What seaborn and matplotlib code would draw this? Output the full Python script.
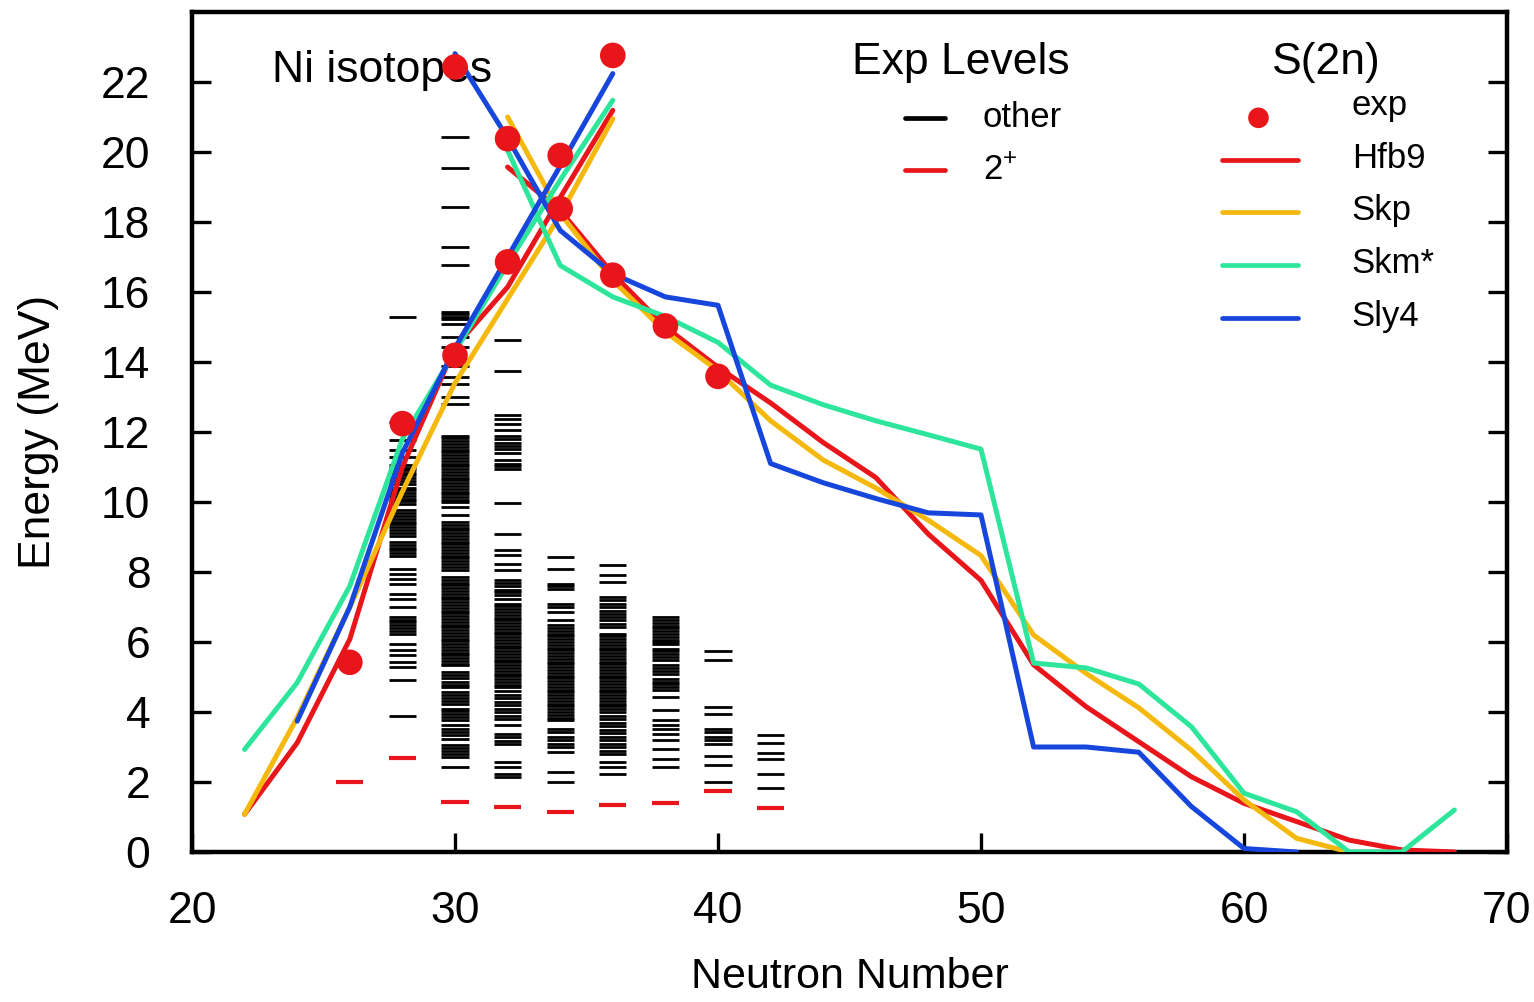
import matplotlib
matplotlib.use("Agg")
import matplotlib.pyplot as plt
import seaborn as sns
import pandas as pd

# ---------------- data ----------------
# S(2n) model curves: two branches each (rising / falling)
hfb9_rise_N = [22, 24, 26, 28, 30, 32, 34, 36]
hfb9_rise_E = [1.08, 3.12, 6.08, 11.0, 14.43, 16.14, 18.7, 21.19]
hfb9_fall_N = [32, 34, 36, 38, 40, 42, 44, 46, 48, 50, 52, 54, 56, 58, 60, 62, 64, 66, 68]
hfb9_fall_E = [19.57, 18.33, 16.52, 15.0, 13.85, 12.83, 11.7, 10.7, 9.08, 7.76, 5.35, 4.15,
               3.15, 2.15, 1.39, 0.87, 0.34, 0.06, 0.0]

skp_rise_N = [22, 24, 26, 28, 30, 32, 34, 36]
skp_rise_E = [1.08, 3.84, 7.0, 10.3, 13.4, 15.8, 18.2, 20.95]
skp_fall_N = [32, 34, 36, 38, 40, 42, 44, 46, 48, 50, 52, 54, 56, 58, 60, 62, 64]
skp_fall_E = [21.0, 18.24, 16.33, 14.86, 13.75, 12.32, 11.2, 10.4, 9.48, 8.47, 6.2, 5.1,
              4.12, 2.91, 1.49, 0.39, 0.0]

skm_rise_N = [22, 24, 26, 28, 30, 32, 34, 36]
skm_rise_E = [2.93, 4.84, 7.6, 11.8, 14.3, 16.8, 19.2, 21.48]
skm_fall_N = [32, 34, 36, 38, 40, 42, 44, 46, 48, 50, 52, 54, 56, 58, 60, 62, 64, 66, 68]
skm_fall_E = [20.05, 16.76, 15.86, 15.3, 14.56, 13.34, 12.78, 12.32, 11.92, 11.51, 5.4, 5.26,
              4.8, 3.58, 1.68, 1.15, 0.0, 0.0, 1.2]

sly4_rise_N = [24, 26, 28, 30, 32, 34, 36]
sly4_rise_E = [3.74, 7.0, 11.4, 14.4, 17.0, 19.6, 22.24]
sly4_fall_N = [30, 32, 34, 36, 38, 40, 42, 44, 46, 48, 50, 52, 54, 56, 58, 60, 62]
sly4_fall_E = [22.81, 20.4, 17.76, 16.52, 15.86, 15.62, 11.1, 10.55, 10.1, 9.69, 9.63, 3.0,
               3.0, 2.85, 1.3, 0.1, 0.0]

# experimental S(2n)
exp_rise_N = [26, 28, 30, 32, 34, 36]
exp_rise_E = [5.42, 12.24, 14.19, 16.86, 19.9, 22.76]
exp_fall_N = [30, 32, 34, 36, 38, 40]
exp_fall_E = [22.43, 20.38, 18.38, 16.48, 15.03, 13.59]

# experimental 2+ levels
twoplus_N = [26, 28, 30, 32, 34, 36, 38, 40, 42]
twoplus_E = [2.0, 2.68, 1.44, 1.3, 1.15, 1.33, 1.41, 1.75, 1.25]

# other experimental levels (MeV)
levels_N28 = [15.29, 12.29, 11.76, 11.48, 11.29, 11.05, 10.98, 10.91, 10.84, 10.76, 10.68, 10.60,
              10.52, 10.40, 10.33, 10.26, 10.18, 10.10, 10.02, 9.95, 9.76, 9.68, 9.60, 9.52,
              9.44, 9.36, 9.28, 9.20, 9.12, 9.04, 8.86, 8.78, 8.70, 8.62, 8.54, 8.46, 8.09,
              7.95, 7.81, 7.67, 7.38, 7.24, 7.00, 6.72, 6.64, 6.56, 6.48, 6.40, 6.32, 6.24,
              5.95, 5.76, 5.62, 5.43, 5.29, 4.92, 3.90]
levels_N30 = [20.43, 19.53, 18.43, 17.29, 16.76, 15.43, 15.36, 15.30, 15.24, 15.10, 14.71, 14.43,
              13.90, 13.57, 13.38, 13.00, 12.81,
              11.90, 11.82, 11.74, 11.66, 11.58, 11.50, 11.42, 11.34, 11.26, 11.18, 11.10, 11.02,
              10.94, 10.86, 10.78, 10.70, 10.62, 10.54, 10.46, 10.38, 10.30, 10.22, 10.14, 10.06,
              10.00, 9.86, 9.62,
              9.43, 9.35, 9.27, 9.19, 9.11, 9.03, 8.95, 8.87, 8.79, 8.71, 8.63, 8.55, 8.47, 8.39,
              8.31, 8.23, 8.15, 8.05,
              7.86, 7.78, 7.70, 7.62, 7.54, 7.46, 7.38, 7.30, 7.22, 7.14, 7.06, 6.98, 6.90, 6.82,
              6.74, 6.66, 6.58, 6.50, 6.42, 6.34, 6.26, 6.18, 6.10, 6.02, 5.94, 5.86, 5.78, 5.70,
              5.62, 5.54, 5.46, 5.38, 5.34,
              5.14, 5.05, 4.96, 4.87, 4.78, 4.71, 4.57, 4.49, 4.41, 4.32, 4.24,
              4.10, 4.02, 3.93, 3.85, 3.76, 3.62, 3.52, 3.43, 3.33, 3.24,
              3.05, 2.96, 2.88, 2.80, 2.72, 2.43]
levels_N32 = [14.64, 13.73, 12.48, 12.36, 12.24, 12.05, 11.90, 11.80, 11.70, 11.60, 11.52, 11.40,
              11.19, 11.10, 11.02, 10.95, 9.97, 9.08, 8.64, 8.48, 8.24, 8.05, 7.78, 7.70, 7.60,
              7.50, 7.42, 7.33, 7.24,
              7.10, 7.02, 6.94, 6.86, 6.78, 6.70, 6.62, 6.54, 6.46, 6.38, 6.30, 6.22, 6.14, 6.06,
              5.98, 5.90, 5.82, 5.74, 5.66, 5.58, 5.50, 5.42, 5.34, 5.26, 5.18, 5.10, 5.02, 4.94,
              4.86, 4.78, 4.71,
              4.60, 4.50, 4.40, 4.30, 4.20, 4.10, 4.00, 3.90, 3.81, 3.62, 3.38, 3.28, 3.18, 3.09,
              2.57, 2.43, 2.24, 2.14]
levels_N34 = [8.43, 8.10, 7.67, 7.60, 7.52, 7.10, 7.00, 6.86, 6.64,
              6.48, 6.40, 6.32, 6.24, 6.16, 6.08, 6.00, 5.92, 5.84, 5.76, 5.68, 5.60, 5.52, 5.44,
              5.36, 5.28, 5.20, 5.12, 5.04, 4.96, 4.88, 4.80, 4.72, 4.64, 4.56, 4.48, 4.40, 4.32,
              4.24, 4.16, 4.08, 4.00, 3.92, 3.84, 3.76,
              3.52, 3.42, 3.30, 3.20, 3.10, 3.00, 2.86, 2.29, 2.00]
levels_N36 = [8.21, 7.92, 7.71, 7.29, 7.20, 7.10, 7.00, 6.90, 6.81, 6.72, 6.62, 6.52, 6.43,
              6.24, 6.16, 6.08, 6.00, 5.92, 5.84, 5.76, 5.68, 5.60, 5.52, 5.44, 5.36, 5.28, 5.20,
              5.12, 5.04, 4.96, 4.88, 4.80, 4.72, 4.64, 4.56, 4.48, 4.40, 4.32, 4.24, 4.16, 4.08,
              4.00, 3.90, 3.80, 3.70, 3.60, 3.50, 3.40, 3.30, 3.20, 3.10, 3.00, 2.90, 2.81,
              2.57, 2.43, 2.24]
levels_N38 = [6.71, 6.63, 6.55, 6.47, 6.39, 6.31, 6.23, 6.15, 6.07, 5.99, 5.95, 5.81, 5.73, 5.65,
              5.57, 5.48, 5.33, 5.25, 5.17, 5.10, 4.95, 4.87, 4.79, 4.71, 4.62, 4.43, 4.05,
              3.76, 3.64, 3.52, 3.38, 3.19, 2.93, 2.67, 2.43]
levels_N40 = [5.74, 5.50, 4.14, 3.95, 3.52, 3.42, 3.30, 3.19, 3.10, 2.73, 2.50, 2.00]
levels_N42 = [3.33, 3.11, 2.84, 2.65, 2.22, 1.84]

# ---------------- tables ----------------
curves = [
    ("Hfb9", "rise", hfb9_rise_N, hfb9_rise_E), ("Hfb9", "fall", hfb9_fall_N, hfb9_fall_E),
    ("Skp", "rise", skp_rise_N, skp_rise_E), ("Skp", "fall", skp_fall_N, skp_fall_E),
    ("Skm*", "rise", skm_rise_N, skm_rise_E), ("Skm*", "fall", skm_fall_N, skm_fall_E),
    ("Sly4", "rise", sly4_rise_N, sly4_rise_E), ("Sly4", "fall", sly4_fall_N, sly4_fall_E),
]
df_lines = pd.concat(
    [pd.DataFrame({"N": n, "E": e, "model": m, "branch": f"{m}-{b}"}) for m, b, n, e in curves],
    ignore_index=True)

df_exp = pd.DataFrame({"N": exp_rise_N + exp_fall_N, "E": exp_rise_E + exp_fall_E})

level_sets = {28: levels_N28, 30: levels_N30, 32: levels_N32, 34: levels_N34,
              36: levels_N36, 38: levels_N38, 40: levels_N40, 42: levels_N42}
df_lev = pd.concat([pd.DataFrame({"N": n, "E": v}) for n, v in level_sets.items()],
                   ignore_index=True)

palette = {"Hfb9": "#e8161b", "Skp": "#f5b80c", "Skm*": "#2ee69b", "Sly4": "#1646dc"}
RED = "#e8161b"

# ---------------- figure ----------------
sns.set_theme(style="white")
plt.rcParams["font.family"] = ["Liberation Sans", "DejaVu Sans"]
plt.rcParams["mathtext.fontset"] = "custom"
plt.rcParams["mathtext.rm"] = "Liberation Sans"
plt.rcParams["text.color"] = "black"
plt.rcParams["axes.labelcolor"] = "black"
plt.rcParams["xtick.color"] = "black"
plt.rcParams["ytick.color"] = "black"

fig = plt.figure(figsize=(15.34, 10.02), dpi=100)
ax = fig.add_axes([192 / 1534, 150 / 1002, 1315 / 1534, 840 / 1002])

# level dashes
half = 0.52
ax.hlines(df_lev["E"], df_lev["N"] - half, df_lev["N"] + half, color="black",
          linewidth=2.0, zorder=2)
ax.hlines(twoplus_E, [n - half for n in twoplus_N], [n + half for n in twoplus_N],
          color=RED, linewidth=3.0, zorder=2)

# model curves
sns.lineplot(data=df_lines, x="N", y="E", hue="model", units="branch", estimator=None,
             palette=palette, hue_order=["Hfb9", "Skp", "Skm*", "Sly4"], linewidth=3.6,
             legend=False, ax=ax, zorder=3)

# experimental S(2n)
sns.scatterplot(data=df_exp, x="N", y="E", color=RED, s=340, edgecolor="none",
                legend=False, ax=ax, zorder=5)

ax.set_xlim(20, 70)
ax.set_ylim(0, 24)
ax.set_xticks([20, 30, 40, 50, 60, 70])
ax.set_yticks(list(range(0, 23, 2)))
ax.set_xlabel("Neutron Number", fontsize=31, labelpad=18)
ax.set_ylabel("Energy (MeV)", fontsize=32, labelpad=30)
ax.tick_params(axis="both", direction="in", length=14, width=2.4, labelsize=32,
               colors="black")
ax.tick_params(axis="y", right=True, left=True, pad=30)
ax.tick_params(axis="x", top=False, bottom=True, pad=28)
for s in ax.spines.values():
    s.set_linewidth(3.2)
    s.set_color("black")
    s.set_visible(True)

ax.text(0.061, 0.930, "Ni isotopes", transform=ax.transAxes, fontsize=32,
        va="center", ha="left", zorder=1)

# legend: Exp Levels
T = ax.transAxes
ax.text(0.502, 0.940, "Exp Levels", transform=T, fontsize=32, va="center", ha="left")
ax.plot([0.542, 0.573], [0.874, 0.874], transform=T, color="black", lw=3.4, clip_on=False)
ax.text(0.6015, 0.874, "other", transform=T, fontsize=25, va="center", ha="left")
ax.plot([0.542, 0.573], [0.812, 0.812], transform=T, color=RED, lw=3.4, clip_on=False)
ax.text(0.6015, 0.812, r"2$^{+}$", transform=T, fontsize=25, va="center", ha="left")

# legend: S(2n)
ax.text(0.821, 0.940, "S(2n)", transform=T, fontsize=32, va="center", ha="left")
ax.scatter([0.811], [0.874], transform=T, s=220, color=RED, edgecolor="none", clip_on=False)
ax.text(0.882, 0.889, "exp", transform=T, fontsize=25, va="center", ha="left")
rows_y = [0.824, 0.762, 0.699, 0.636]
for (name, col), yy in zip(palette.items(), rows_y):
    ax.plot([0.783, 0.841], [yy, yy], transform=T, color=col, lw=3.4, clip_on=False)
    ax.text(0.882, yy + 0.002, name, transform=T, fontsize=25, va="center", ha="left")

fig.savefig("out.png", dpi=100)
